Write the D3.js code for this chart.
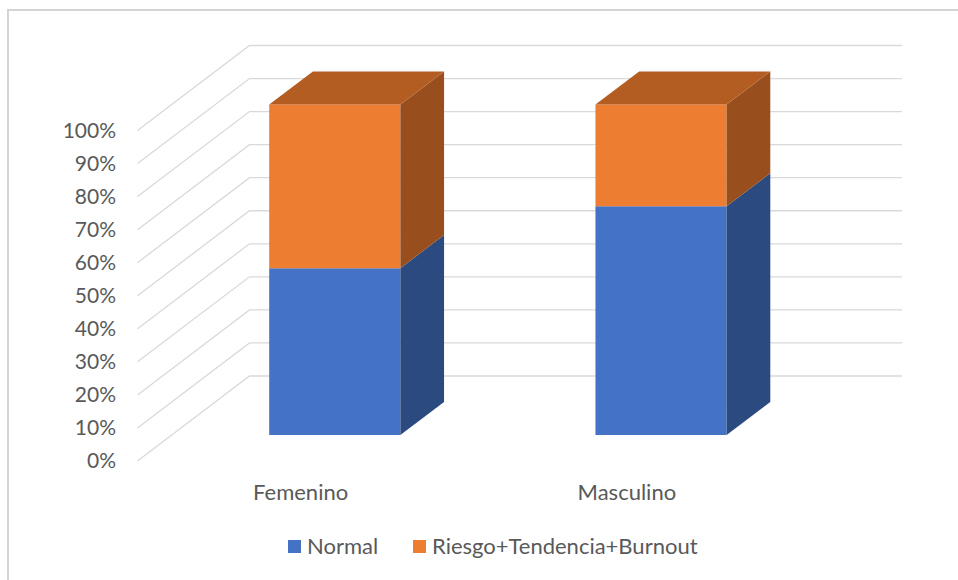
<!DOCTYPE html>
<html>
<head>
<meta charset="utf-8">
<script src="https://cdn.jsdelivr.net/npm/d3@7/dist/d3.min.js"></script>
<style>
  html, body { margin: 0; padding: 0; background: #fff; }
  svg { display: block; }
  text { font-family: Lato, "Open Sans", sans-serif; fill: #595959; }
</style>
</head>
<body>
<svg id="chart" width="958" height="580"></svg>
<script>
// Share of each group (percent) by sex
const categories = ["Femenino", "Masculino"];
const seriesNames = ["Normal", "Riesgo+Tendencia+Burnout"];
const normal = [50.5, 69.2];
const riesgo = [49.5, 30.8];
const yTicks = [0, 10, 20, 30, 40, 50, 60, 70, 80, 90, 100];

const W = 958, H = 580;
const svg = d3.select("#chart");

// Chart frame
svg.append("path")
  .attr("d", `M8,${H + 5} L8,10 L${W + 5},10`)
  .attr("fill", "none").attr("stroke", "#d4d4d4").attr("stroke-width", 2);

// Front plane scales plus an oblique depth offset for the 3D look
const x = d3.scaleBand().domain(categories).range([137.5, 790]).paddingInner(0.598).paddingOuter(0.299);
const y = d3.scaleLinear().domain([0, 100]).range([461, 130.5]);
const DX = 112, DY = 85;          // full floor depth offset
const D0 = 0.305, D1 = 0.695;     // depth span of the columns
const proj = (px, v, d) => [px + DX * d, y(v) - DY * d];

// Gridlines: side wall diagonals + back wall horizontals
const grid = svg.append("g").attr("stroke", "#d9d9d9").attr("stroke-width", 1.3).attr("fill", "none");
yTicks.forEach(t => {
  const a = proj(x.range()[0], t, 0), b = proj(x.range()[0], t, 1), c = proj(x.range()[1], t, 1);
  grid.append("path").attr("d", `M${a[0]},${a[1]} L${b[0]},${b[1]} L${c[0]},${c[1]}`);
});

// Y axis labels
svg.append("g").selectAll("text").data(yTicks).join("text")
  .attr("x", 116).attr("y", d => y(d) + 2)
  .attr("text-anchor", "end").attr("dominant-baseline", "middle")
  .attr("font-size", 21)
  .text(d => d + "%");

// Stacked columns
const rows = categories.map((c, i) => ({ cat: c, Normal: normal[i], "Riesgo+Tendencia+Burnout": riesgo[i] }));
const stacked = d3.stack().keys(seriesNames)(rows);
const colors = {
  "Normal": { front: "#4472C4", side: "#2B4A80", top: "#3A63AC" },
  "Riesgo+Tendencia+Burnout": { front: "#ED7D31", side: "#994F1D", top: "#B35D22" }
};
const poly = pts => "M" + pts.map(p => p.join(",")).join("L") + "Z";

const bars = svg.append("g");
categories.forEach((cat, i) => {
  const x0 = x(cat), x1 = x(cat) + x.bandwidth();
  const g = bars.append("g");
  stacked.forEach((s, k) => {
    const [v0, v1] = s[i];
    const col = colors[s.key];
    // front face
    g.append("path").attr("fill", col.front)
      .attr("d", poly([proj(x0, v0, D0), proj(x1, v0, D0), proj(x1, v1, D0), proj(x0, v1, D0)]));
    // right side face
    g.append("path").attr("fill", col.side)
      .attr("d", poly([proj(x1, v0, D0), proj(x1, v0, D1), proj(x1, v1, D1), proj(x1, v1, D0)]));
    // top face on the uppermost segment
    if (k === stacked.length - 1) {
      g.append("path").attr("fill", col.top)
        .attr("d", poly([proj(x0, v1, D0), proj(x1, v1, D0), proj(x1, v1, D1), proj(x0, v1, D1)]));
    }
  });
});

// Category labels
svg.append("g").selectAll("text").data(categories).join("text")
  .attr("x", d => x(d) + x.bandwidth() / 2).attr("y", 494)
  .attr("text-anchor", "middle").attr("dominant-baseline", "middle")
  .attr("font-size", 22)
  .text(d => d);

// Legend
const legend = svg.append("g");
const legendX = [288, 413];
seriesNames.forEach((name, k) => {
  legend.append("rect").attr("x", legendX[k]).attr("y", 540).attr("width", 13).attr("height", 13)
    .attr("fill", colors[name].front);
  legend.append("text").attr("x", legendX[k] + 19).attr("y", 548)
    .attr("dominant-baseline", "middle").attr("font-size", 22)
    .text(name);
});
</script>
</body>
</html>
